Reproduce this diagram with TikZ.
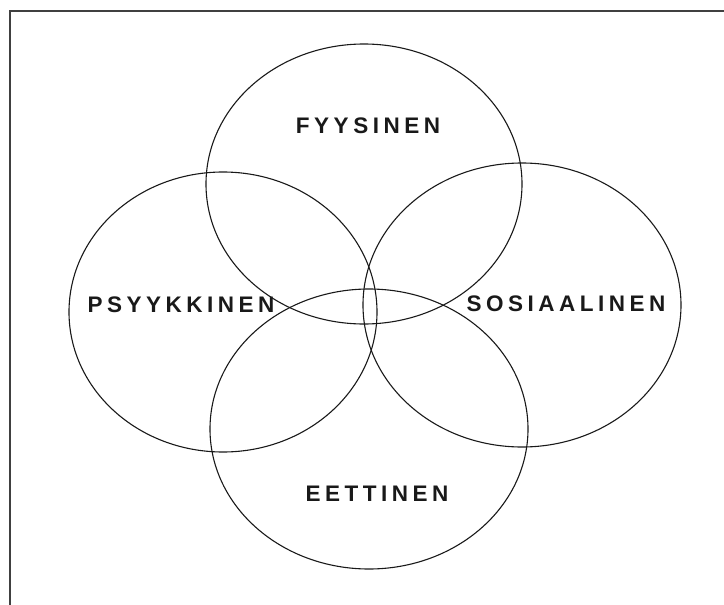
\documentclass[tikz,border=0pt]{standalone}
\usepackage{fontspec}
\usetikzlibrary{shapes.geometric}
\newfontfamily\lblfont[LetterSpace=20]{Liberation Sans}
\tikzset{
  ring/.style={draw=black!90, line width=1.1pt, ellipse, inner sep=0pt},
  lbl/.style={font=\lblfont\bfseries\fontsize{22.5}{25}\selectfont, text=black!90, inner sep=0pt},
  frame/.style={draw=black!75, line width=2pt}
}
\begin{document}
\begin{tikzpicture}[x=1pt,y=-1pt]
\useasboundingbox (0,0) rectangle (724,605);
\coordinate (fbl) at (10,605);
\coordinate (ftl) at (10,11);
\coordinate (ftr) at (724,11);
\draw[frame] (fbl) -- (ftl) -- (ftr);
\node[ring, minimum width=316pt, minimum height=280pt] (fyy) at (364,184) {};
\node[ring, minimum width=308pt, minimum height=280pt] (psy) at (223,312) {};
\node[ring, minimum width=318pt, minimum height=284pt] (sos) at (522,305) {};
\node[ring, minimum width=318pt, minimum height=280pt] (eet) at (369,429) {};
\node[lbl] (tf) at (368,126) {FYYSINEN};
\node[lbl] (tp) at (181,305) {PSYYKKINEN};
\node[lbl] (ts) at (566,304) {SOSIAALINEN};
\node[lbl] (te) at (377,494) {EETTINEN};
\end{tikzpicture}
\end{document}
